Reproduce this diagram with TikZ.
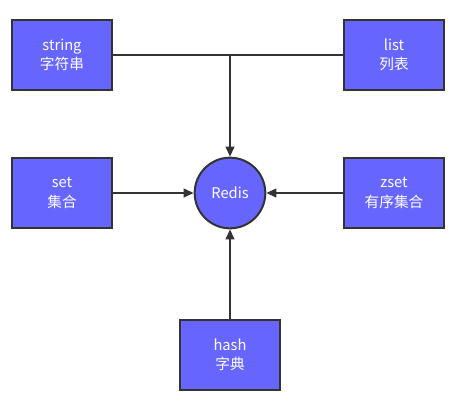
\documentclass[tikz,border=0pt]{standalone}
\usepackage{fontspec}
\setmainfont{Noto Sans CJK SC}
\usetikzlibrary{arrows.meta}
\definecolor{boxfill}{HTML}{6666FF}
\definecolor{edgegray}{HTML}{333333}
\tikzstyle{typebox} = [rectangle, draw=edgegray, line width=1.5pt, fill=boxfill,
  minimum width=75pt, minimum height=52.5pt, inner sep=0pt, align=center,
  text=white, font=\fontsize{11}{14.5}\selectfont]
\tikzstyle{core} = [circle, draw=edgegray, line width=1.5pt, fill=boxfill,
  minimum size=53pt, inner sep=0pt, text=white, font=\fontsize{11}{14.5}\selectfont]
\tikzstyle{link} = [draw=edgegray, line width=1.5pt]

\begin{document}
\begin{tikzpicture}[x=0.75pt, y=-0.75pt,
    >={Triangle[length=7.5pt, width=6.5pt]}]
    \useasboundingbox (0,0) rectangle (472,401);
    \node[core] (redis) at (230,193) {Redis};
    \node[typebox] (string) at (62,55) {string\\字符串};
    \node[typebox] (list) at (394,55) {list\\列表};
    \node[typebox] (set) at (62,193) {set\\集合};
    \node[typebox] (zset) at (394,193) {zset\\有序集合};
    \node[typebox] (hash) at (230,354.5) {hash\\字典};
    \draw[link] (string) -- (list);
    \draw[link, ->] (string -| redis) -- (redis);
    \draw[link, ->] (set) -- (redis);
    \draw[link, ->] (zset) -- (redis);
    \draw[link, ->] (hash) -- (redis);
  \end{tikzpicture}
\end{document}
